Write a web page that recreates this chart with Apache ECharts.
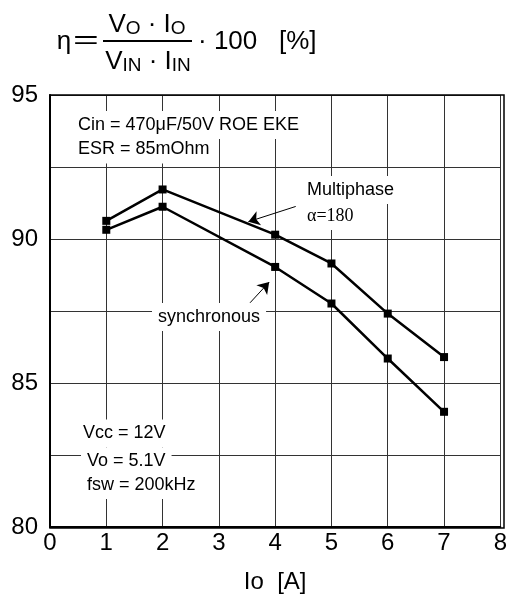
<!DOCTYPE html>
<html>
<head>
<meta charset="utf-8">
<script src="https://cdn.jsdelivr.net/npm/echarts@6/dist/echarts.min.js"></script>
<style>
  html, body { margin: 0; padding: 0; background: #fff; }
  #chart { width: 510px; height: 599px; }
</style>
</head>
<body>
<div id="chart"></div>
<script>
// load current Io [A]
const ioValues = [1, 2, 4, 5, 6, 7];
// efficiency [%]
const multiphase = [90.63, 91.72, 90.15, 89.15, 87.41, 85.9];
const synchronous = [90.32, 91.12, 89.03, 87.76, 85.85, 84.0];
const xTicks = [0, 1, 2, 3, 4, 5, 6, 7, 8];
const yTicks = [80, 85, 90, 95];

const FONT = 'Liberation Sans, Arial, sans-serif';

const chart = echarts.init(document.getElementById('chart'));

function pairs(vals) {
  return ioValues.map((x, i) => [x, vals[i]]);
}

function note(x, y, text, extra) {
  return {
    type: 'text', x: x, y: y, z: 10, silent: true,
    style: Object.assign({
      text: text, font: '18px ' + FONT, fill: '#000',
      align: 'left', verticalAlign: 'middle',
      backgroundColor: '#fff', padding: [5, 6, 5, 6]
    }, extra || {})
  };
}

const fracRich = {
  v: { fontSize: 26, fontFamily: FONT, color: '#000', verticalAlign: 'bottom', lineHeight: 26 },
  s: { fontSize: 19, fontFamily: FONT, color: '#000', verticalAlign: 'bottom', lineHeight: 24 }
};

chart.setOption({
  animation: false,
  backgroundColor: '#fff',
  grid: { left: 50, right: 6, top: 95, bottom: 71, show: false },
  xAxis: {
    type: 'value', min: 0, max: 8, interval: 1,
    name: 'Io  [A]', nameLocation: 'middle', nameGap: 43,
    nameTextStyle: { fontSize: 24, fontFamily: FONT, color: '#000' },
    axisLine: { show: true, onZero: false, lineStyle: { color: '#000', width: 2 } },
    axisTick: { show: false },
    axisLabel: {
      margin: 4, fontSize: 24, fontFamily: FONT, color: '#000',
      formatter: v => xTicks.includes(v) ? String(v) : ''
    },
    splitLine: { show: true, lineStyle: { color: '#333', width: 1 } }
  },
  yAxis: {
    type: 'value', min: 80, max: 95, interval: 2.5,
    axisLine: { show: true, lineStyle: { color: '#000', width: 2 } },
    axisTick: { show: false },
    axisLabel: {
      margin: 12, fontSize: 24, fontFamily: FONT, color: '#000',
      padding: [5, 0, 0, 0],
      formatter: v => yTicks.includes(v) ? String(v) : ''
    },
    splitLine: { show: true, lineStyle: { color: '#333', width: 1 } }
  },
  series: [
    {
      name: 'Multiphase', type: 'line', data: pairs(multiphase),
      symbol: 'rect', symbolSize: 8,
      lineStyle: { color: '#000', width: 2.5 },
      itemStyle: { color: '#000' },
      markLine: {
        silent: true, animation: false,
        symbol: ['none', 'arrow'], symbolSize: 11,
        lineStyle: { color: '#000', width: 1, type: 'solid' },
        itemStyle: { color: '#000' },
        label: { show: false },
        data: [
          [{ coord: [4.365, 91.13] }, { coord: [3.524, 90.60] }],
          [{ coord: [3.554, 87.785] }, { coord: [3.894, 88.505] }]
        ]
      }
    },
    {
      name: 'synchronous', type: 'line', data: pairs(synchronous),
      symbol: 'rect', symbolSize: 8,
      lineStyle: { color: '#000', width: 2.5 },
      itemStyle: { color: '#000' }
    }
  ],
  graphic: [
    // plot frame (top / right)
    { type: 'rect', z: 1, silent: true, shape: { x: 50, y: 95, width: 454, height: 433 },
      style: { fill: 'none', stroke: '#000', lineWidth: 1.5 } },
    // efficiency formula
    { type: 'text', x: 64, y: 42, silent: true,
      style: { text: 'η', font: '26px ' + FONT, fill: '#000', align: 'center', verticalAlign: 'middle' } },
    { type: 'text', x: 86, y: 41, scaleX: 1.7, silent: true,
      style: { text: '=', font: '26px ' + FONT, fill: '#000', align: 'center', verticalAlign: 'middle' } },
    { type: 'text', x: 147, y: 25, silent: true,
      style: { text: '{v|V}{s|O}{v| · I}{s|O}', rich: fracRich, align: 'center', verticalAlign: 'middle' } },
    { type: 'line', silent: true, shape: { x1: 103, y1: 41, x2: 192, y2: 41 },
      style: { stroke: '#000', lineWidth: 2 } },
    { type: 'text', x: 148, y: 62, silent: true,
      style: { text: '{v|V}{s|IN}{v| · I}{s|IN}', rich: fracRich, align: 'center', verticalAlign: 'middle' } },
    { type: 'text', x: 198, y: 42, silent: true,
      style: { text: '· 100   [%]', font: '26px ' + FONT, fill: '#000', align: 'left', verticalAlign: 'middle' } },
    // annotations
    note(72, 125, 'Cin = 470μF/50V ROE EKE'),
    note(72, 149.5, 'ESR = 85mOhm'),
    note(301, 190, 'Multiphase'),
    note(301, 216, 'α=180', { font: '18px Liberation Serif, Times New Roman, serif' }),
    note(152, 317, 'synchronous'),
    note(77, 433.5, 'Vcc = 12V'),
    note(81, 461.5, 'Vo = 5.1V'),
    note(81, 485, 'fsw = 200kHz')
  ]
});
</script>
</body>
</html>
